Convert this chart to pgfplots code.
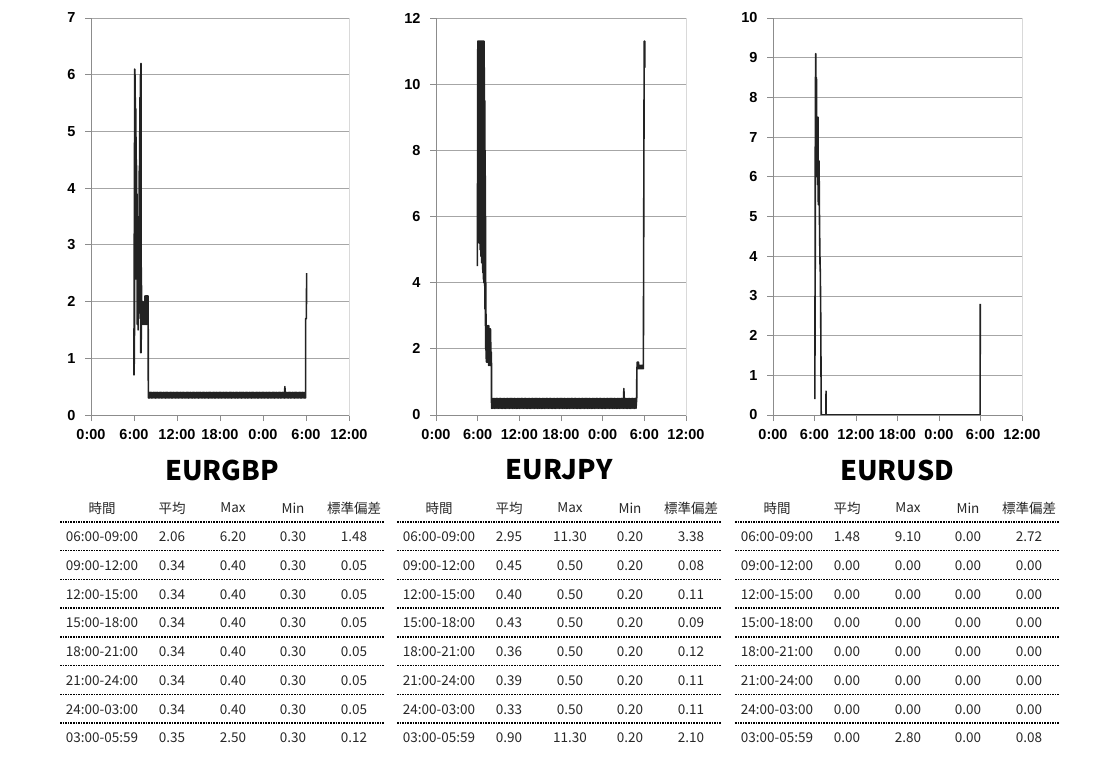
\documentclass[border=0pt]{standalone}
\usepackage{fontspec}
\setmainfont{Liberation Sans}
\newfontfamily\jp{Noto Sans CJK JP}
\usepackage{pgfplots}
\pgfplotsset{compat=1.18}

\definecolor{ln}{HTML}{222222}
\definecolor{gridc}{HTML}{A6A6A6}
\definecolor{axc}{HTML}{8C8C8C}
\definecolor{boxc}{HTML}{D9D9D9}
\definecolor{txt}{HTML}{262626}

\pgfplotsset{
  fx/.style={
    scale only axis, height=397pt,
    xmin=0, xmax=36, xtick={0,6,...,36},
    xticklabels={\textbf{0:00},\textbf{6:00},\textbf{12:00},\textbf{18:00},\textbf{0:00},\textbf{6:00},\textbf{12:00}},
    yticklabel={\textbf{\pgfmathprintnumber{\tick}}},
    ymin=0,
    ymajorgrids, grid style={gridc, line width=0.8pt},
    axis line style={boxc, line width=0.8pt},
    tick pos=left, tick align=outside, major tick length=6pt,
    major tick style={axc, line width=0.8pt},
    xticklabel style={font=\fontsize{14.5}{16}\selectfont\bfseries, yshift=-5pt},
    yticklabel style={font=\fontsize{14.5}{16}\selectfont\bfseries, xshift=-6pt},
    /pgf/number format/assume math mode=true,
    clip=false,
    after end axis/.code={
      \draw[gridc, line width=0.8pt] (rel axis cs:0,1) -- (rel axis cs:1,1);
      \draw[axc, line width=0.8pt] (rel axis cs:0,1) -- (rel axis cs:0,0) -- (rel axis cs:1,0);
    },
  },
  dl/.style={ln, line width=1.6pt, line join=round, no marks},
}

% #1 left edge (pt), #2 pair name, #3 rows
\newcommand{\stattable}[3]{%
  \node[font=\jp\bfseries\fontsize{27}{30}\selectfont, text=black] at ({#1pt+162pt},-470pt) {#2};
  \begin{scope}[every node/.style={font=\jp\fontsize{13.5}{16}\selectfont, text=txt, inner sep=0pt}]
    \node at ({#1pt+42pt},-508pt) {時間};
    \node at ({#1pt+112pt},-508pt) {平均};
    \node at ({#1pt+173pt},-508pt) {Max};
    \node at ({#1pt+233pt},-508pt) {Min};
    \node at ({#1pt+294pt},-508pt) {標準偏差};
    \foreach \t/\a/\b/\c/\d [count=\i] in {#3} {
      \node at ({#1pt+42pt},{-537pt-(\i-1)*28.7pt}) {\t};
      \node at ({#1pt+112pt},{-537pt-(\i-1)*28.7pt}) {\a};
      \node at ({#1pt+173pt},{-537pt-(\i-1)*28.7pt}) {\b};
      \node at ({#1pt+233pt},{-537pt-(\i-1)*28.7pt}) {\c};
      \node at ({#1pt+294pt},{-537pt-(\i-1)*28.7pt}) {\d};
    }
  \end{scope}
  \foreach \k in {0,...,7}
    \draw[black, line width=1.4pt, dash pattern=on 1.6pt off 1pt]
      (#1pt,{-522pt-\k*28.7pt}) -- ({#1pt+324pt},{-522pt-\k*28.7pt});
}

\begin{document}
\begin{tikzpicture}
\path[use as bounding box] (0,0) rectangle (1096pt,-780pt);

% ---------------- EURGBP ----------------
\begin{axis}[fx, width=258pt, ymax=7, ytick={0,...,7},
  at={(91pt,-415pt)}, anchor=south west]
\addplot[dl] coordinates {
(6.00,0.7) (6.01,1.9) (6.03,0.9) (6.05,4.8) (6.07,1.4) (6.10,6.1) (6.12,2.9) (6.14,6.0)
(6.16,3.8) (6.18,5.6) (6.21,3.0) (6.24,5.4) (6.27,2.4) (6.30,4.9) (6.33,3.2) (6.36,4.4)
(6.39,2.4) (6.42,3.9) (6.45,1.6) (6.48,3.5) (6.51,1.9) (6.54,3.3) (6.57,1.5) (6.60,3.1)
(6.63,1.8) (6.66,3.5) (6.69,1.9) (6.72,4.3) (6.75,1.8) (6.78,5.0) (6.81,2.1) (6.84,5.6)
(6.87,1.7) (6.90,6.0) (6.93,1.1) (6.97,6.2) (7.00,1.1) (7.03,2.6) (7.06,1.6) (7.09,2.0)
(7.12,1.6) (7.16,1.75) (7.20,1.6) (7.25,2.0) (7.30,1.6) (7.35,1.75) (7.40,1.6) (7.45,2.0)
(7.50,1.6) (7.53,2.1) (7.56,1.6) (7.59,2.1) (7.62,1.6) (7.65,2.0) (7.68,1.6) (7.71,2.1)
(7.74,1.6) (7.77,2.1) (7.80,1.6) (7.83,2.1) (7.86,1.6) (7.89,2.1) (7.92,1.6) (7.95,2.1)
(7.98,1.6)
(8.0,0.3)(8.1,0.4)(8.2,0.3)(8.3,0.4)(8.4,0.3)(8.5,0.4)(8.6,0.3)(8.7,0.4)(8.8,0.3)(8.9,0.4)
(9.0,0.3)(9.1,0.4)(9.2,0.3)(9.3,0.4)(9.4,0.3)(9.5,0.4)(9.6,0.3)(9.7,0.4)(9.8,0.3)(9.9,0.4)
(10.0,0.3)(10.1,0.4)(10.2,0.3)(10.3,0.4)(10.4,0.3)(10.5,0.4)(10.6,0.3)(10.7,0.4)(10.8,0.3)(10.9,0.4)
(11.0,0.3)(11.1,0.4)(11.2,0.3)(11.3,0.4)(11.4,0.3)(11.5,0.4)(11.6,0.3)(11.7,0.4)(11.8,0.3)(11.9,0.4)
(12.0,0.3)(12.1,0.4)(12.2,0.3)(12.3,0.4)(12.4,0.3)(12.5,0.4)(12.6,0.3)(12.7,0.4)(12.8,0.3)(12.9,0.4)
(13.0,0.3)(13.1,0.4)(13.2,0.3)(13.3,0.4)(13.4,0.3)(13.5,0.4)(13.6,0.3)(13.7,0.4)(13.8,0.3)(13.9,0.4)
(14.0,0.3)(14.1,0.4)(14.2,0.3)(14.3,0.4)(14.4,0.3)(14.5,0.4)(14.6,0.3)(14.7,0.4)(14.8,0.3)(14.9,0.4)
(15.0,0.3)(15.1,0.4)(15.2,0.3)(15.3,0.4)(15.4,0.3)(15.5,0.4)(15.6,0.3)(15.7,0.4)(15.8,0.3)(15.9,0.4)
(16.0,0.3)(16.1,0.4)(16.2,0.3)(16.3,0.4)(16.4,0.3)(16.5,0.4)(16.6,0.3)(16.7,0.4)(16.8,0.3)(16.9,0.4)
(17.0,0.3)(17.1,0.4)(17.2,0.3)(17.3,0.4)(17.4,0.3)(17.5,0.4)(17.6,0.3)(17.7,0.4)(17.8,0.3)(17.9,0.4)
(18.0,0.3)(18.1,0.4)(18.2,0.3)(18.3,0.4)(18.4,0.3)(18.5,0.4)(18.6,0.3)(18.7,0.4)(18.8,0.3)(18.9,0.4)
(19.0,0.3)(19.1,0.4)(19.2,0.3)(19.3,0.4)(19.4,0.3)(19.5,0.4)(19.6,0.3)(19.7,0.4)(19.8,0.3)(19.9,0.4)
(20.0,0.3)(20.1,0.4)(20.2,0.3)(20.3,0.4)(20.4,0.3)(20.5,0.4)(20.6,0.3)(20.7,0.4)(20.8,0.3)(20.9,0.4)
(21.0,0.3)(21.1,0.4)(21.2,0.3)(21.3,0.4)(21.4,0.3)(21.5,0.4)(21.6,0.3)(21.7,0.4)(21.8,0.3)(21.9,0.4)
(22.0,0.3)(22.1,0.4)(22.2,0.3)(22.3,0.4)(22.4,0.3)(22.5,0.4)(22.6,0.3)(22.7,0.4)(22.8,0.3)(22.9,0.4)
(23.0,0.3)(23.1,0.4)(23.2,0.3)(23.3,0.4)(23.4,0.3)(23.5,0.4)(23.6,0.3)(23.7,0.4)(23.8,0.3)(23.9,0.4)
(24.0,0.3)(24.1,0.4)(24.2,0.3)(24.3,0.4)(24.4,0.3)(24.5,0.4)(24.6,0.3)(24.7,0.4)(24.8,0.3)(24.9,0.4)
(25.0,0.3)(25.1,0.4)(25.2,0.3)(25.3,0.4)(25.4,0.3)(25.5,0.4)(25.6,0.3)(25.7,0.4)(25.8,0.3)(25.9,0.4)
(26.0,0.3)(26.1,0.4)(26.2,0.3)(26.3,0.4)(26.4,0.3)(26.5,0.4)(26.6,0.3)(26.7,0.4)(26.8,0.3)(26.9,0.4)
(27.0,0.3)(27.05,0.5)(27.1,0.4)(27.2,0.3)(27.3,0.4)(27.4,0.3)(27.5,0.4)(27.6,0.3)(27.7,0.4)(27.8,0.3)(27.9,0.4)
(28.0,0.3)(28.1,0.4)(28.2,0.3)(28.3,0.4)(28.4,0.3)(28.5,0.4)(28.6,0.3)(28.7,0.4)(28.8,0.3)(28.9,0.4)
(29.0,0.3)(29.1,0.4)(29.2,0.3)(29.3,0.4)(29.4,0.3)(29.5,0.4)(29.6,0.3)(29.7,0.4)(29.8,0.3)(29.9,0.4)
(29.95,0.3) (29.95,1.7) (30.05,1.7) (30.09,2.5)
};
\end{axis}

% ---------------- EURJPY ----------------
\begin{axis}[fx, width=250pt, ymax=12, ytick={0,2,...,12},
  at={(436pt,-415pt)}, anchor=south west]
\addplot[dl] coordinates {
(5.95,4.5) (5.97,7.0) (5.99,5.6) (6.02,11.3) (6.05,5.8) (6.08,11.3) (6.11,5.4) (6.14,11.3)
(6.17,5.9) (6.20,11.3) (6.23,5.2) (6.26,11.3) (6.29,5.5) (6.32,11.3) (6.35,5.0) (6.38,11.3)
(6.41,5.2) (6.44,11.3) (6.47,4.8) (6.50,11.3) (6.53,5.0) (6.56,11.3) (6.59,4.6) (6.62,11.3)
(6.65,4.7) (6.68,11.3) (6.71,4.4) (6.74,11.3) (6.77,4.3) (6.80,11.3) (6.83,4.1) (6.86,11.3)
(6.89,4.0) (6.92,11.3) (6.95,4.1) (6.97,10.5) (7.00,3.9) (7.03,9.5) (7.06,3.2) (7.08,8.0)
(7.11,2.7) (7.13,6.0) (7.16,2.0) (7.18,4.0) (7.21,1.7) (7.24,2.7) (7.27,1.6) (7.30,2.5)
(7.33,1.6) (7.36,2.7) (7.39,1.6) (7.42,2.4) (7.45,1.6) (7.48,2.7) (7.51,1.7) (7.54,2.6)
(7.57,1.5) (7.60,2.7) (7.63,1.6) (7.66,2.6) (7.69,1.5) (7.72,2.5) (7.75,1.6) (7.78,2.6)
(7.81,1.5) (7.84,2.6) (7.87,1.5) (7.90,2.2) (7.93,1.5) (7.96,1.9) (7.99,1.5)
(8.0,0.2)(8.1,0.5)(8.2,0.2)(8.3,0.5)(8.4,0.2)(8.5,0.5)(8.6,0.2)(8.7,0.5)(8.8,0.2)(8.9,0.5)
(9.0,0.2)(9.1,0.5)(9.2,0.2)(9.3,0.5)(9.4,0.2)(9.5,0.5)(9.6,0.2)(9.7,0.5)(9.8,0.2)(9.9,0.5)
(10.0,0.2)(10.1,0.5)(10.2,0.2)(10.3,0.5)(10.4,0.2)(10.5,0.5)(10.6,0.2)(10.7,0.5)(10.8,0.2)(10.9,0.5)
(11.0,0.2)(11.1,0.5)(11.2,0.2)(11.3,0.5)(11.4,0.2)(11.5,0.5)(11.6,0.2)(11.7,0.5)(11.8,0.2)(11.9,0.5)
(12.0,0.2)(12.1,0.5)(12.2,0.2)(12.3,0.5)(12.4,0.2)(12.5,0.5)(12.6,0.2)(12.7,0.5)(12.8,0.2)(12.9,0.5)
(13.0,0.2)(13.1,0.5)(13.2,0.2)(13.3,0.5)(13.4,0.2)(13.5,0.5)(13.6,0.2)(13.7,0.5)(13.8,0.2)(13.9,0.5)
(14.0,0.2)(14.1,0.5)(14.2,0.2)(14.3,0.5)(14.4,0.2)(14.5,0.5)(14.6,0.2)(14.7,0.5)(14.8,0.2)(14.9,0.5)
(15.0,0.2)(15.1,0.5)(15.2,0.2)(15.3,0.5)(15.4,0.2)(15.5,0.5)(15.6,0.2)(15.7,0.5)(15.8,0.2)(15.9,0.5)
(16.0,0.2)(16.1,0.5)(16.2,0.2)(16.3,0.5)(16.4,0.2)(16.5,0.5)(16.6,0.2)(16.7,0.5)(16.8,0.2)(16.9,0.5)
(17.0,0.2)(17.1,0.5)(17.2,0.2)(17.3,0.5)(17.4,0.2)(17.5,0.5)(17.6,0.2)(17.7,0.5)(17.8,0.2)(17.9,0.5)
(18.0,0.2)(18.1,0.5)(18.2,0.2)(18.3,0.5)(18.4,0.2)(18.5,0.5)(18.6,0.2)(18.7,0.5)(18.8,0.2)(18.9,0.5)
(19.0,0.2)(19.1,0.5)(19.2,0.2)(19.3,0.5)(19.4,0.2)(19.5,0.5)(19.6,0.2)(19.7,0.5)(19.8,0.2)(19.9,0.5)
(20.0,0.2)(20.1,0.5)(20.2,0.2)(20.3,0.5)(20.4,0.2)(20.5,0.5)(20.6,0.2)(20.7,0.5)(20.8,0.2)(20.9,0.5)
(21.0,0.2)(21.1,0.5)(21.2,0.2)(21.3,0.5)(21.4,0.2)(21.5,0.5)(21.6,0.2)(21.7,0.5)(21.8,0.2)(21.9,0.5)
(22.0,0.2)(22.1,0.5)(22.2,0.2)(22.3,0.5)(22.4,0.2)(22.5,0.5)(22.6,0.2)(22.7,0.5)(22.8,0.2)(22.9,0.5)
(23.0,0.2)(23.1,0.5)(23.2,0.2)(23.3,0.5)(23.4,0.2)(23.5,0.5)(23.6,0.2)(23.7,0.5)(23.8,0.2)(23.9,0.5)
(24.0,0.2)(24.1,0.5)(24.2,0.2)(24.3,0.5)(24.4,0.2)(24.5,0.5)(24.6,0.2)(24.7,0.5)(24.8,0.2)(24.9,0.5)
(25.0,0.2)(25.1,0.5)(25.2,0.2)(25.3,0.5)(25.4,0.2)(25.5,0.5)(25.6,0.2)(25.7,0.5)(25.8,0.2)(25.9,0.5)
(26.0,0.2)(26.1,0.5)(26.2,0.2)(26.3,0.5)(26.4,0.2)(26.5,0.5)(26.6,0.2)(26.7,0.5)(26.8,0.2)(26.9,0.5)
(27.0,0.2)(27.05,0.8)(27.1,0.5)(27.2,0.2)(27.3,0.5)(27.4,0.2)(27.5,0.5)(27.6,0.2)(27.7,0.5)(27.8,0.2)(27.9,0.5)
(28.0,0.2)(28.1,0.5)(28.2,0.2)(28.3,0.5)(28.4,0.2)(28.5,0.5)(28.6,0.2)(28.7,0.5)(28.8,0.2)(28.9,0.5)
(28.92,1.3) (28.98,1.6) (29.02,1.4) (29.06,1.6) (29.10,1.4) (29.15,1.6) (29.20,1.4) (29.25,1.5)
(29.30,1.4) (29.35,1.5) (29.40,1.4) (29.45,1.5) (29.50,1.4) (29.55,1.5) (29.60,1.4) (29.65,1.5)
(29.70,1.4) (29.75,1.5) (29.80,1.4) (29.86,1.5) (29.86,1.4) (29.98,11.3) (30.00,10.5) (30.02,11.3)
(30.04,10.6) (30.06,11.3) (30.08,10.5)
};
\end{axis}

% ---------------- EURUSD ----------------
\begin{axis}[fx, width=249pt, ymax=10, ytick={0,...,10},
  at={(773pt,-415pt)}, anchor=south west]
\addplot[dl] coordinates {
(6.05,0.4) (6.06,3.0) (6.09,1.5) (6.12,7.9) (6.18,9.1) (6.22,6.0) (6.28,8.5) (6.33,6.3)
(6.40,7.5) (6.46,5.8) (6.50,7.5) (6.55,5.3) (6.60,6.0) (6.66,6.4) (6.70,5.3) (6.74,4.6)
(6.80,3.8) (6.84,3.6) (6.90,2.5) (6.94,1.2) (6.97,0.0) (7.66,0.0) (7.67,0.6) (7.69,0.0)
(29.95,0.0) (29.96,2.8)
};
\end{axis}

\stattable{60}{EURGBP}{
06:00-09:00/2.06/6.20/0.30/1.48,
09:00-12:00/0.34/0.40/0.30/0.05,
12:00-15:00/0.34/0.40/0.30/0.05,
15:00-18:00/0.34/0.40/0.30/0.05,
18:00-21:00/0.34/0.40/0.30/0.05,
21:00-24:00/0.34/0.40/0.30/0.05,
24:00-03:00/0.34/0.40/0.30/0.05,
03:00-05:59/0.35/2.50/0.30/0.12}

\stattable{397}{EURJPY}{
06:00-09:00/2.95/11.30/0.20/3.38,
09:00-12:00/0.45/0.50/0.20/0.08,
12:00-15:00/0.40/0.50/0.20/0.11,
15:00-18:00/0.43/0.50/0.20/0.09,
18:00-21:00/0.36/0.50/0.20/0.12,
21:00-24:00/0.39/0.50/0.20/0.11,
24:00-03:00/0.33/0.50/0.20/0.11,
03:00-05:59/0.90/11.30/0.20/2.10}

\stattable{735}{EURUSD}{
06:00-09:00/1.48/9.10/0.00/2.72,
09:00-12:00/0.00/0.00/0.00/0.00,
12:00-15:00/0.00/0.00/0.00/0.00,
15:00-18:00/0.00/0.00/0.00/0.00,
18:00-21:00/0.00/0.00/0.00/0.00,
21:00-24:00/0.00/0.00/0.00/0.00,
24:00-03:00/0.00/0.00/0.00/0.00,
03:00-05:59/0.00/2.80/0.00/0.08}

\end{tikzpicture}
\end{document}
